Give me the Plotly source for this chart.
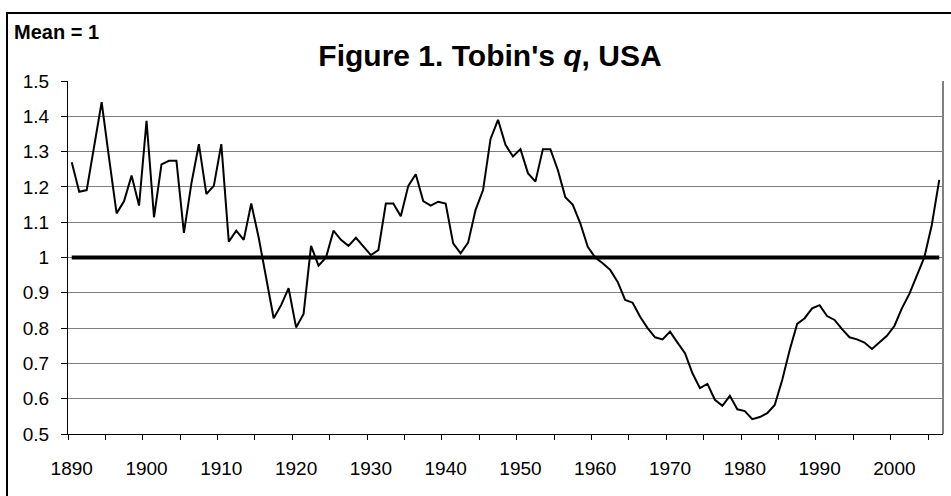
import plotly.graph_objects as go

# ---- data ----
years = list(range(1890, 2007))
tobins_q = [
    1.27, 1.186, 1.191, 1.31, 1.44, 1.28, 1.125, 1.16, 1.232, 1.147,      # 1890-1899
    1.387, 1.114, 1.264, 1.274, 1.274, 1.07, 1.21, 1.321, 1.18, 1.203,    # 1900-1909
    1.321, 1.045, 1.076, 1.05, 1.153, 1.056, 0.945, 0.828, 0.865, 0.913,  # 1910-1919
    0.802, 0.84, 1.033, 0.977, 1.0, 1.076, 1.05, 1.033, 1.056, 1.033,     # 1920-1929
    1.007, 1.021, 1.153, 1.153, 1.117, 1.203, 1.236, 1.16, 1.147, 1.158,  # 1930-1939
    1.153, 1.04, 1.012, 1.042, 1.135, 1.191, 1.336, 1.39, 1.319, 1.286,   # 1940-1949
    1.307, 1.239, 1.215, 1.307, 1.307, 1.248, 1.171, 1.149, 1.097, 1.03,  # 1950-1959
    1.0, 0.984, 0.965, 0.931, 0.88, 0.872, 0.832, 0.8, 0.774, 0.768,      # 1960-1969
    0.79, 0.759, 0.729, 0.672, 0.63, 0.642, 0.597, 0.58, 0.608, 0.57,     # 1970-1979
    0.565, 0.542, 0.548, 0.559, 0.582, 0.653, 0.738, 0.812, 0.828, 0.856, # 1980-1989
    0.865, 0.834, 0.823, 0.797, 0.774, 0.768, 0.759, 0.741, 0.759, 0.778, # 1990-1999
    0.806, 0.856, 0.897, 0.948, 1.0, 1.092, 1.22,                         # 2000-2006
]
mean_value = 1.0
x_label_years = [1890, 1900, 1910, 1920, 1930, 1940, 1950, 1960, 1970, 1980, 1990, 2000]
y_tick_vals = [0.5, 0.6, 0.7, 0.8, 0.9, 1.0, 1.1, 1.2, 1.3, 1.4, 1.5]
y_tick_text = ["0.5", "0.6", "0.7", "0.8", "0.9", "1", "1.1", "1.2", "1.3", "1.4", "1.5"]
title_text = "Figure 1. Tobin's <i>q</i>, USA"
corner_text = "Mean = 1"

FONT = "Arial, Liberation Sans, sans-serif"
W, H = 951, 496
L, R, T, B = 68, 8, 81, 62

# category edges (tick marks between categories, every 5 years)
x_lo = years[0] - 0.5
x_hi = years[-1] + 0.5
minor_ticks = [x_lo + 5 * k for k in range(int((x_hi - x_lo) // 5) + 1)]

fig = go.Figure()
fig.add_trace(go.Scatter(
    x=years, y=tobins_q, mode="lines",
    line=dict(color="black", width=2), showlegend=False, hoverinfo="x+y"))
fig.add_trace(go.Scatter(
    x=[years[0], years[-1]], y=[mean_value, mean_value], mode="lines",
    line=dict(color="black", width=4), showlegend=False, hoverinfo="skip"))

plot_w = W - L - R
plot_h = H - T - B

def px_x(p):
    return (p - L) / plot_w

def px_y(p):
    return (H - B - p) / plot_h

fig.update_layout(
    width=W, height=H,
    margin=dict(l=L, r=R, t=T, b=B, pad=0),
    paper_bgcolor="white", plot_bgcolor="white",
    font=dict(family=FONT, color="black"),
    title=dict(text="<b>" + title_text + "</b>", x=490 / W, xanchor="center",
               y=1 - 55 / H, yanchor="middle", xref="container", yref="container",
               font=dict(family=FONT, size=30, color="black")),
    xaxis=dict(
        range=[x_lo, x_hi], tickmode="array", tickvals=x_label_years,
        ticktext=[str(v) for v in x_label_years],
        ticks="outside", ticklen=5, tickcolor="rgba(0,0,0,0)",
        ticklabelstandoff=12,
        minor=dict(tickmode="array", tickvals=minor_ticks, ticks="outside",
                   ticklen=5, tickcolor="black", tickwidth=1, showgrid=False),
        showgrid=False, zeroline=False, showline=True, linecolor="black", linewidth=1,
        tickfont=dict(family=FONT, size=19, color="black"), fixedrange=True),
    yaxis=dict(
        range=[0.5, 1.5], tickmode="array", tickvals=y_tick_vals, ticktext=y_tick_text,
        ticks="outside", ticklen=6, tickcolor="black", tickwidth=1,
        ticklabelstandoff=8,
        showgrid=True, gridcolor="#808080", gridwidth=1,
        zeroline=False, showline=True, linecolor="black", linewidth=1,
        tickfont=dict(family=FONT, size=19, color="black"), fixedrange=True),
    shapes=[
        # plot-area right border
        dict(type="line", xref="paper", yref="paper", x0=1, x1=1, y0=0, y1=1,
             line=dict(color="#808080", width=2)),
        # chart-area border (extends past the visible window on right and bottom)
        dict(type="rect", xref="paper", yref="paper",
             x0=px_x(7), x1=px_x(W + 20), y0=px_y(H + 20), y1=px_y(13),
             line=dict(color="black", width=2), layer="below"),
    ],
    annotations=[
        dict(text="<b>" + corner_text + "</b>", xref="paper", yref="paper",
             x=px_x(12), y=px_y(32), xanchor="left", yanchor="middle",
             showarrow=False, font=dict(family=FONT, size=20, color="black")),
    ],
)

fig.write_html("out.html", config={"displayModeBar": False},
               post_script="document.body.style.margin='0';")
